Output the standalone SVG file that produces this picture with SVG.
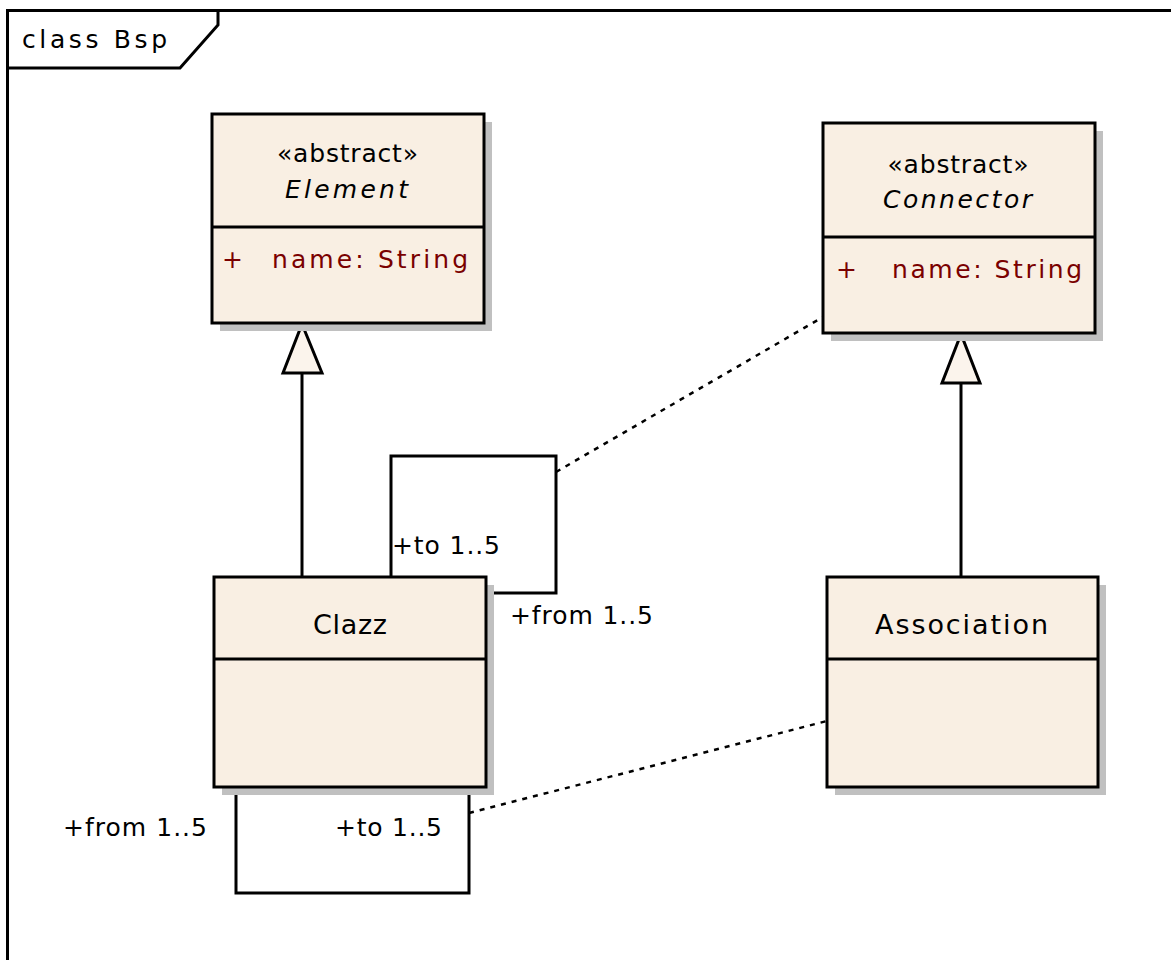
<svg xmlns="http://www.w3.org/2000/svg" width="1171" height="960" viewBox="0 0 1171 960">
<style>
.t{font-family:"DejaVu Sans","Liberation Sans",sans-serif;font-size:25px;fill:#000}
.n{font-family:"DejaVu Sans","Liberation Sans",sans-serif;font-size:27px;fill:#000}
.i{font-style:italic}
.a{font-family:"DejaVu Sans","Liberation Sans",sans-serif;font-size:25px;fill:#7a0000}
.box{fill:#f9efe3;stroke:#000;stroke-width:3}
.sh{fill:#c0c0c0}
.ln{fill:none;stroke:#000;stroke-width:3}
.dash{fill:none;stroke:#000;stroke-width:2.5;stroke-dasharray:5 6}
.tri{fill:#fbf4ec;stroke:#000;stroke-width:3}
</style>
<rect width="1171" height="960" fill="#fff"/>
<g id="frame">
<path d="M7.5 960 V10.5 H1171" class="ln"/>
<path d="M7.5 68 H180 L218 25 V10.5" class="ln"/>
<text x="22" y="48" class="t" font-size="24" textLength="145" lengthAdjust="spacing">class Bsp</text>
</g>
<g id="connectors">
<path d="M302 577 V373" class="ln"/>
<path d="M302 324 L283 373 H322 Z" class="tri"/>
<path d="M961 577 V383" class="ln"/>
<path d="M961 334 L942 383 H980 Z" class="tri"/>
<path d="M391 577 V456 H556 V593 H487" class="ln"/>
<path d="M236 788 V893 H469 V788" class="ln"/>
<path d="M556 472 L823 317" class="dash"/>
<path d="M469 813 L827 721" class="dash"/>
<text x="392" y="554" class="t" textLength="108" lengthAdjust="spacing">+to 1..5</text>
<text x="510" y="624" class="t" textLength="143" lengthAdjust="spacing">+from 1..5</text>
<text x="63" y="836" class="t" textLength="144" lengthAdjust="spacing">+from 1..5</text>
<text x="335" y="836" class="t" textLength="107" lengthAdjust="spacing">+to 1..5</text>
</g>
<g id="Element">
<rect x="220" y="122" width="272" height="209" class="sh"/>
<rect x="212" y="114" width="272" height="209" class="box"/>
<path d="M212 227 H484" class="ln"/>
<text x="347.5" y="162" class="t" text-anchor="middle" textLength="141" lengthAdjust="spacing">«abstract»</text>
<text x="346.5" y="198" class="t i" text-anchor="middle" textLength="123" lengthAdjust="spacing">Element</text>
<text x="222" y="268" class="a">+</text>
<text x="272" y="268" class="a" textLength="196" lengthAdjust="spacing">name: String</text>
</g>
<g id="Connector">
<rect x="831" y="131" width="272" height="210" class="sh"/>
<rect x="823" y="123" width="272" height="210" class="box"/>
<path d="M823 237 H1095" class="ln"/>
<text x="958" y="173" class="t" text-anchor="middle" textLength="141" lengthAdjust="spacing">«abstract»</text>
<text x="957.5" y="208" class="t i" text-anchor="middle" textLength="149" lengthAdjust="spacing">Connector</text>
<text x="836" y="278" class="a">+</text>
<text x="892" y="278" class="a" textLength="190" lengthAdjust="spacing">name: String</text>
</g>
<g id="Clazz">
<rect x="222" y="585" width="272" height="210" class="sh"/>
<rect x="214" y="577" width="272" height="210" class="box"/>
<path d="M214 659 H486" class="ln"/>
<text x="350" y="634" class="n" text-anchor="middle" textLength="74" lengthAdjust="spacing">Clazz</text>
</g>
<g id="Association">
<rect x="835" y="585" width="271" height="210" class="sh"/>
<rect x="827" y="577" width="271" height="210" class="box"/>
<path d="M827 659 H1098" class="ln"/>
<text x="961.5" y="634" class="n" text-anchor="middle" textLength="173" lengthAdjust="spacing">Association</text>
</g>
</svg>
